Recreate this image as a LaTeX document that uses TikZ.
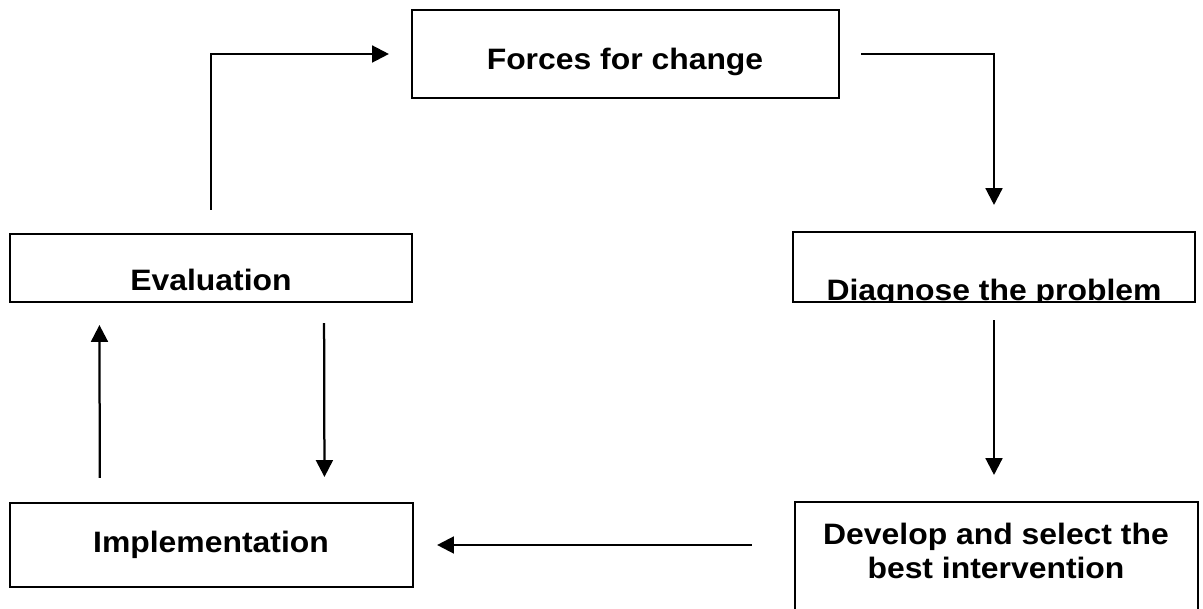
\documentclass[tikz,border=0pt]{standalone}
\usepackage{fontspec}
\setmainfont{Liberation Sans}
\usepackage{graphicx}
\usetikzlibrary{arrows.meta}

\newcommand{\wtext}[1]{\scalebox{1.08}[1]{#1}}

\tikzset{
  box/.style={draw, line width=1.6pt, inner sep=0pt, outer sep=0pt},
  lbl/.style={font=\fontsize{21}{23.5}\selectfont\bfseries, inner sep=0pt},
  arr/.style={line width=1.6pt, -{Triangle[length=0.42cm,width=0.42cm]}}
}

\begin{document}
\begin{tikzpicture}[x=0.025cm, y=-0.025cm]
  \path[use as bounding box, clip] (0,0) rectangle (1203,609);
  % boxes
  \node[box, minimum width=10.675cm, minimum height=2.2cm] (forces) at (625.5,54) {};
  \node[box, minimum width=10.05cm, minimum height=1.7cm] (eval) at (211,268) {};
  \node[box, minimum width=10.05cm, minimum height=1.75cm] (diag) at (994,267) {};
  \node[box, minimum width=10.075cm, minimum height=2.1cm] (impl) at (211.5,545) {};
  \node[box, minimum width=10.075cm, minimum height=3.45cm] (dev) at (996.5,571) {};
  % labels
  \node[lbl, anchor=base] (forces-t) at (625,70) {\wtext{Forces for change}};
  \node[lbl, anchor=base] (eval-t) at (211,291) {\wtext{Evaluation}};
  \begin{scope}
    \clip (diag.south west) rectangle (diag.north east);
    \node[lbl, anchor=base] (diag-t) at (994,301) {\wtext{Diagnose the problem}};
  \end{scope}
  \node[lbl, anchor=base] (impl-t) at (211,552) {\wtext{Implementation}};
  \node[lbl, align=center, anchor=base] (dev-t) at (996,578)
    {\wtext{Develop and select the}\\\wtext{best intervention}};
  % arrows
  \draw[arr, shorten <=0.6cm, shorten >=0.575cm] (eval.north) |- (forces.west);
  \draw[arr, shorten <=0.55cm, shorten >=0.675cm] (forces.east) -| (diag.north);
  \draw[arr, shorten <=0.45cm, shorten >=0.675cm] (diag.south) -- (diag.south |- dev.north);
  \draw[arr, shorten <=1.075cm, shorten >=0.6cm] (dev.west |- impl.east) -- (impl.east);
  \draw[arr, shorten <=0.625cm, shorten >=0.575cm] ([xshift=-2.79cm]impl.north) -- ([xshift=-2.79cm]eval.south);
  \draw[arr, shorten <=0.525cm, shorten >=0.65cm] ([xshift=2.825cm]eval.south) -- ([xshift=2.825cm]impl.north);
\end{tikzpicture}
\end{document}
